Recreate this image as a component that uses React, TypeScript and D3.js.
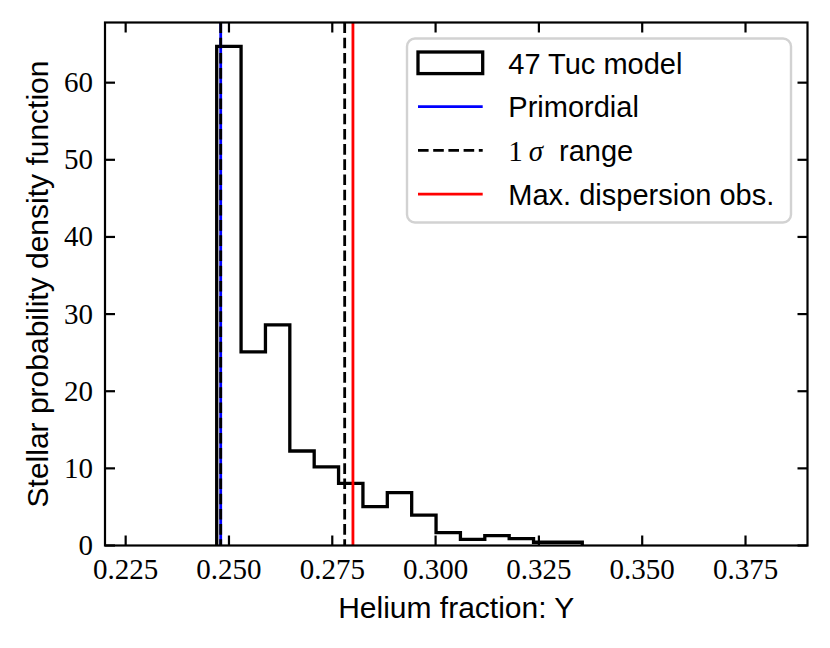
import React from "react";
import * as d3 from "d3";

// ---- data ----
const binStart = 0.24703;
const binWidth = 0.005898;
const binValues = [64.7, 25.1, 28.6, 12.25, 10.2, 8.06, 5.03, 6.85, 3.95, 1.66, 0.8, 1.27, 0.88, 0.42, 0.42];
const xTicks = [0.225, 0.25, 0.275, 0.3, 0.325, 0.35, 0.375];
const xTickLabels = ["0.225", "0.250", "0.275", "0.300", "0.325", "0.350", "0.375"];
const yTicks = [0, 10, 20, 30, 40, 50, 60];
const primordialY = [0.248];
const sigmaRange = [0.248, 0.278];
const maxDispersion = [0.28];
const legendLabels = ["47 Tuc model", "Primordial", "1σ range", "Max. dispersion obs."];

const W = 830;
const H = 648;
const L = 105, R = 807.5, T = 22.5, B = 545.5;
const SANS = "'Liberation Sans', Arial, sans-serif";
const SERIF = "'Liberation Serif', 'Times New Roman', serif";

export default function App() {
  const x = d3.scaleLinear().domain([0.22, 0.39]).range([L, R]);
  const y = d3.scaleLinear().domain([0, 67.8]).range([B, T]);

  const edges = d3.range(binValues.length + 1).map((i) => binStart + i * binWidth);
  const pts: [number, number][] = [[edges[0], 0]];
  binValues.forEach((v, i) => {
    pts.push([edges[i], v]);
    pts.push([edges[i + 1], v]);
  });
  pts.push([edges[edges.length - 1], 0]);
  const line = d3
    .line<[number, number]>()
    .x((d) => x(d[0]))
    .y((d) => y(d[1]));
  const histPath = line(pts) || "";

  const tickLen = 10;
  const tw = 2.2;
  const dash = "10.6 4.6";

  // legend geometry
  const lgX = 407, lgY = 38.5, lgW = 384, lgH = 184;
  const hx0 = 418, hx1 = 482.7, tx = 508.3;
  const baselines = [73.5, 117.3, 161.1, 204.9];

  return (
    <svg
      width={W}
      height={H}
      style={{ position: "absolute", left: 0, top: 0, background: "#fff" }}
      xmlns="http://www.w3.org/2000/svg"
    >
      <rect x={0} y={0} width={W} height={H} fill="#fff" />
      {/* histogram */}
      <path d={histPath} fill="none" stroke="#000" strokeWidth={3.3} strokeLinejoin="miter" />
      {/* vertical lines */}
      {primordialY.map((v, i) => (
        <line key={"p" + i} x1={x(v)} x2={x(v)} y1={T} y2={B} stroke="#0000ff" strokeWidth={2.8} />
      ))}
      {sigmaRange.map((v, i) => (
        <line key={"s" + i} x1={x(v)} x2={x(v)} y1={T} y2={B} stroke="#000" strokeWidth={2.8} strokeDasharray={dash} />
      ))}
      {maxDispersion.map((v, i) => (
        <line key={"m" + i} x1={x(v)} x2={x(v)} y1={T} y2={B} stroke="#ff0000" strokeWidth={2.8} />
      ))}

      {/* ticks */}
      {xTicks.map((t, i) => (
        <g key={"xt" + i}>
          <line x1={x(t)} x2={x(t)} y1={B} y2={B - tickLen} stroke="#000" strokeWidth={tw} />
          <line x1={x(t)} x2={x(t)} y1={T} y2={T + tickLen} stroke="#000" strokeWidth={tw} />
          <text x={x(t)} y={578.5} textAnchor="middle" fontFamily={SERIF} fontSize={29} fill="#000">
            {xTickLabels[i]}
          </text>
        </g>
      ))}
      {yTicks.map((t, i) => (
        <g key={"yt" + i}>
          <line x1={L} x2={L + tickLen} y1={y(t)} y2={y(t)} stroke="#000" strokeWidth={tw} />
          <line x1={R} x2={R - tickLen} y1={y(t)} y2={y(t)} stroke="#000" strokeWidth={tw} />
          <text x={93} y={y(t) + 9.5} textAnchor="end" fontFamily={SERIF} fontSize={29} fill="#000">
            {String(t)}
          </text>
        </g>
      ))}

      {/* spines */}
      <rect x={L} y={T} width={R - L} height={B - T} fill="none" stroke="#000" strokeWidth={tw} />

      {/* axis labels */}
      <text x={(L + R) / 2} y={617.5} textAnchor="middle" fontFamily={SANS} fontSize={30} fill="#000">
        Helium fraction: Y
      </text>
      <text
        transform={`translate(47.5, ${(T + B) / 2}) rotate(-90)`}
        textAnchor="middle"
        fontFamily={SANS}
        fontSize={30}
        fill="#000"
      >
        Stellar probability density function
      </text>

      {/* legend */}
      <rect x={lgX} y={lgY} width={lgW} height={lgH} rx={8} ry={8} fill="#fff" fillOpacity={0.8} stroke="#d2d2d2" strokeWidth={2.4} />
      <rect x={hx0} y={baselines[0] - 21.5} width={hx1 - hx0} height={21.6} fill="#fff" stroke="#000" strokeWidth={3.3} />
      <line x1={hx0} x2={hx1} y1={baselines[1] - 10.7} y2={baselines[1] - 10.7} stroke="#0000ff" strokeWidth={2.8} />
      <line x1={hx0} x2={hx1} y1={baselines[2] - 10.7} y2={baselines[2] - 10.7} stroke="#000" strokeWidth={2.8} strokeDasharray={dash} />
      <line x1={hx0} x2={hx1} y1={baselines[3] - 10.7} y2={baselines[3] - 10.7} stroke="#ff0000" strokeWidth={2.8} />
      <text x={tx} y={baselines[0]} fontFamily={SANS} fontSize={29} fill="#000">{legendLabels[0]}</text>
      <text x={tx} y={baselines[1]} fontFamily={SANS} fontSize={29} fill="#000">{legendLabels[1]}</text>
      <text x={tx} y={baselines[2]} fontSize={29} fill="#000">
        <tspan fontFamily={SERIF}>{legendLabels[2].charAt(0)}</tspan>
        <tspan fontFamily={SERIF} fontStyle="italic" dx={6}>{legendLabels[2].charAt(1)}</tspan>
        <tspan fontFamily={SANS} x={559}>{legendLabels[2].slice(3)}</tspan>
      </text>
      <text x={tx} y={baselines[3]} fontFamily={SANS} fontSize={29} fill="#000">{legendLabels[3]}</text>
    </svg>
  );
}
